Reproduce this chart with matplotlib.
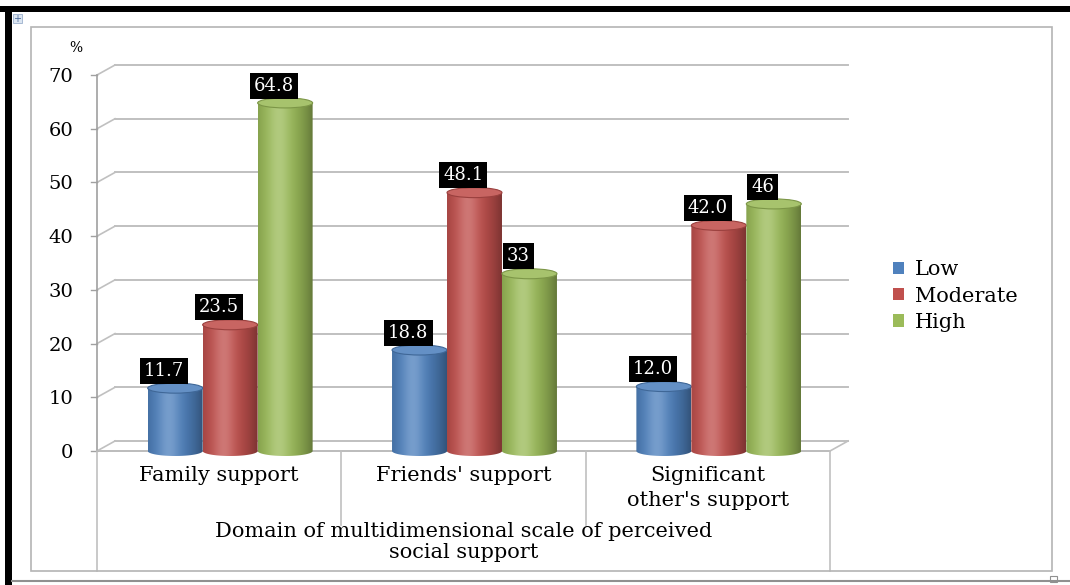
import matplotlib.pyplot as plt
import numpy as np

from matplotlib.colors import to_rgb
from matplotlib.patches import Patch, PathPatch, Ellipse, Rectangle
from matplotlib.path import Path
from matplotlib.lines import Line2D
from matplotlib.transforms import ScaledTranslation

# Data
categories = ["Family support", "Friends' support", "Significant\nother's support"]
series = ["Low", "Moderate", "High"]
low = [11.7, 18.8, 12.0]
moderate = [23.5, 48.1, 42.0]
high = [64.8, 33, 46]
low_labels = ["11.7", "18.8", "12.0"]
moderate_labels = ["23.5", "48.1", "42.0"]
high_labels = ["64.8", "33", "46"]
yticks = [0, 10, 20, 30, 40, 50, 60, 70]
axis_title = "Domain of multidimensional scale of perceived\nsocial support"

colors = ["#4F81BD", "#C0504D", "#9BBB59"]
grid_col = "#c0c0c0"
serif = "DejaVu Serif"

W, H = 1070, 585
fig = plt.figure(figsize=(W / 100, H / 100), dpi=100)

# axes: x -0.5..2.5 -> px 97..830, y 0 at px 451, 70 at px 75
ppu = (451 - 75) / 70.0
ylo = -2
bot_px = 451 - ylo * ppu
ax = fig.add_axes([97 / W, (H - bot_px) / H, 733 / W, (bot_px - 75) / H])
ax.set_xlim(-0.5, 2.5)
ax.set_ylim(ylo, 70)
for s in ax.spines.values():
    s.set_visible(False)

# back wall offset (3D depth)
back = ax.transData + ScaledTranslation(0.18, 0.10, fig.dpi_scale_trans)

# gridlines on back wall + little diagonal connectors
for v in yticks:
    if v == 0:
        continue
    ax.plot([-0.5, 2.5], [v, v], color=grid_col, lw=1.4, transform=back, zorder=1, clip_on=False)
    ax.add_line(Line2D([-0.5, -0.5 + 18 / 244.3], [v, v + 10 / ppu], color=grid_col, lw=1.2, zorder=1, clip_on=False))
    ax.plot([-0.525, -0.5], [v, v], color="#a0a0a0", lw=1, zorder=1, clip_on=False)

# floor
ax.plot([-0.5, 2.5], [0, 0], color=grid_col, lw=1.4, transform=back, zorder=1, clip_on=False)
ax.plot([-0.5, 2.5], [0, 0], color="#b0b0b0", lw=1.2, zorder=1, clip_on=False)
ax.add_line(Line2D([-0.5, -0.5 + 18 / 244.3], [0, 10 / ppu], color=grid_col, lw=1.2, zorder=1, clip_on=False))
ax.add_line(Line2D([2.5, 2.5 + 18 / 244.3], [0, 10 / ppu], color=grid_col, lw=1.2, zorder=1, clip_on=False))
ax.plot([-0.525, -0.5], [0, 0], color="#a0a0a0", lw=1, zorder=1, clip_on=False)
# left axis line
ax.plot([-0.5, -0.5], [0, 70], color="#a0a0a0", lw=1.2, zorder=1, clip_on=False)


def gradient(color, n=80):
    t = np.linspace(0, 1, n)
    base = np.array(to_rgb(color))
    light = np.exp(-((t - 0.38) / 0.2) ** 2) * 0.22
    dark = (np.abs(t - 0.38) / 0.62) ** 2 * 0.35
    rgb = base[None, :] * (1 - dark[:, None]) + (1 - base[None, :]) * light[:, None]
    return np.clip(rgb, 0, 1)[None, :, :]


def cylinder(c, v, w, color, z):
    eh = 10 / ppu
    xl, xr = c - w / 2, c + w / 2
    ang = np.linspace(np.pi, 2 * np.pi, 40)
    arc = np.column_stack([c + w / 2 * np.cos(ang), eh / 2 * np.sin(ang)])
    verts = np.vstack([[xl, v], arc, [xr, v], [xl, v]])
    codes = [Path.MOVETO] + [Path.LINETO] * (len(verts) - 2) + [Path.CLOSEPOLY]
    body = PathPatch(Path(verts, codes), transform=ax.transData, fc="none", ec="none")
    ax.add_patch(body)
    im = ax.imshow(gradient(color), extent=(xl, xr, -eh / 2, v), aspect="auto",
                   interpolation="bilinear", zorder=z)
    im.set_clip_path(body)
    base = np.array(to_rgb(color))
    top = Ellipse((c, v), w, eh, fc=base + (1 - base) * 0.12, ec=base * 0.8, lw=0.8, zorder=z + 0.1)
    ax.add_patch(top)


w = 0.225
offs = [-0.225, 0.0, 0.225]
for j, (vals, labs) in enumerate([(low, low_labels), (moderate, moderate_labels), (high, high_labels)]):
    for i, (v, lab) in enumerate(zip(vals, labs)):
        c = i + 0.045 + offs[j]
        cylinder(c, v, w, colors[j], 3 + j)
        ax.annotate(lab, (c, v), xytext=(-8, 6), textcoords="offset points", ha="center", va="bottom",
                    color="white", fontsize=13, family=serif, zorder=10,
                    bbox=dict(boxstyle="square,pad=0.22", fc="black", ec="none"))

ax.set_xlim(-0.5, 2.5)
ax.set_ylim(ylo, 70)

# y ticks
ax.set_yticks(yticks)
ax.set_yticklabels([str(v) for v in yticks], family=serif, fontsize=14)
ax.tick_params(axis="y", length=0, pad=17)
ax.text(-0.586, 75.0, "%", family=serif, fontsize=10, ha="center", va="center")

# category table under the floor
ax.set_xticks([0, 1, 2])
ax.set_xticklabels(categories, family=serif, fontsize=15, linespacing=1.4)
ax.tick_params(axis="x", length=0, pad=3)
for x in [0.5, 1.5]:
    ax.plot([x, x], [0, -74 / ppu], color=grid_col, lw=1.2, clip_on=False)
for x in [-0.5, 2.5]:
    ax.plot([x, x], [0, -120 / ppu], color=grid_col, lw=1.2, clip_on=False)
ax.text(1.0, -91 / ppu, axis_title, family=serif, fontsize=15, ha="center", va="center",
        linespacing=1.15)

# legend
handles = [Patch(fc=c, ec="none") for c in colors]
fig.legend(handles, series, loc="center left", bbox_to_anchor=(874 / W, 1 - 296 / H),
           frameon=False, prop={"family": serif, "size": 15}, handlelength=0.55,
           handleheight=0.55, handletextpad=0.5, labelspacing=0.35)

# chart frame and page borders
fig.add_artist(Rectangle((31 / W, 1 - 571 / H), (1052 - 31) / W, (571 - 27) / H,
                         transform=fig.transFigure, fc="none", ec="#b4b4b4", lw=1.2))
fig.add_artist(Rectangle((0, 1 - 12 / H), 1, 6 / H, transform=fig.transFigure, fc="black", ec="none"))
fig.add_artist(Rectangle((5 / W, 0), 7 / W, 1 - 7 / H, transform=fig.transFigure, fc="black", ec="none"))
fig.add_artist(Line2D([12 / W, 1], [1 - 581 / H, 1 - 581 / H], transform=fig.transFigure, color="#909090", lw=1.5))
fig.add_artist(Rectangle((13 / W, 1 - 23 / H), 9 / W, 9 / H, transform=fig.transFigure,
                         fc="#dbe5f1", ec="#9bb0cc", lw=0.6))
fig.text(17.5 / W, 1 - 18.5 / H, "+", color="#4a6a9a", fontsize=7, ha="center", va="center")
fig.add_artist(Rectangle((1050 / W, 1 - 582 / H), 7 / W, 6 / H, transform=fig.transFigure,
                         fc="white", ec="#909090", lw=0.8))

fig.savefig("out.png", dpi=100)
